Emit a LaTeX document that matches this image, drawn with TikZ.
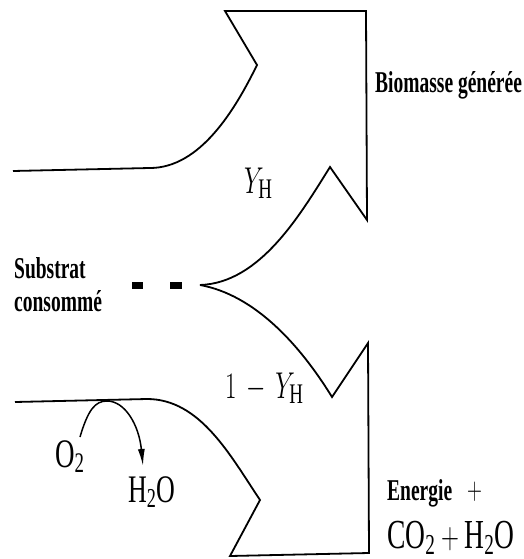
\documentclass[tikz,border=0pt]{standalone}
\usepackage{fontspec}
\usepackage{graphicx}
\setmainfont{Liberation Serif}
\newfontfamily\lmfont{Latin Modern Roman}
\usetikzlibrary{arrows.meta}
\tikzset{
  flow/.style={line width=1.8pt, line join=miter},
  lbl/.style={anchor=base west, inner sep=0pt, font=\bfseries\fontsize{19.5}{20}\selectfont},
  mth/.style={anchor=base west, inner sep=0pt},
  dashbox/.style={fill=black, draw=none},
}
\newcommand{\tallT}[1]{\scalebox{1}[1.55]{#1}}
\newcommand{\tallM}[1]{\scalebox{1}[1.5]{#1}}
\begin{document}
\begin{tikzpicture}[x=1pt,y=-1pt]
\useasboundingbox (0,0) rectangle (523,559);
% upper arrow (biomass)
\draw[flow] (13,171) -- (150,168) .. controls (200,168) and (235,110) .. (257,65)
  -- (225,11) -- (366,11) -- (367,220) -- (330,167)
  .. controls (300,215) and (260,283) .. (200,285);
% lower arrow (energy)
\draw[flow] (200,285) .. controls (255,295) and (300,345) .. (332,397)
  -- (368,343) -- (369,553) -- (230,556) -- (260,500)
  .. controls (230,455) and (200,399) .. (147,399) -- (15,402);
% dashes
\fill[dashbox] (132,282) rectangle (143,289);
\fill[dashbox] (170,282) rectangle (182,289);
% O2 -> H2O arc
\coordinate (o2s) at (80,437);
\coordinate (h2oe) at (143,466);
\draw[line width=1.5pt, -{Latex[length=17pt,width=7pt]}] (o2s) .. controls (88,410) and (95,401) .. (107,401)
  .. controls (125,401) and (139,425) .. (h2oe);
% labels
\node[lbl] (bio) at (375,93) {\tallT{Biomasse générée}};
\node[lbl] (sub) at (14,278) {\tallT{Substrat}};
\node[lbl] (cons) at (14,311) {\tallT{consommé}};
\node[lbl] (ener) at (387,500) {\tallT{Energie}};
\node[mth, font=\lmfont\fontsize{20}{22}\selectfont] (plus) at (467,499) {\tallM{$+$}};
\node[mth, font=\lmfont\fontsize{27.5}{28}\selectfont] (co2) at (387,548) {\scalebox{1}[1.5]{$\mathrm{CO_2 + H_2O}$}};
\node[mth, font=\lmfont\fontsize{27}{28}\selectfont] (yh) at (244,193) {\tallM{$Y_{\mathrm{H}}$}};
\node[mth, font=\lmfont\fontsize{27}{28}\selectfont] (oneyh) at (225,398) {\tallM{$1\,-\,Y_{\mathrm{H}}$}};
\node[mth, font=\lmfont\fontsize{27}{28}\selectfont] (o2) at (55,467) {\tallM{$\mathrm{O_2}$}};
\node[mth, font=\lmfont\fontsize{26}{28}\selectfont] (h2o) at (128,502) {\tallM{$\mathrm{H_2O}$}};
\end{tikzpicture}
\end{document}
